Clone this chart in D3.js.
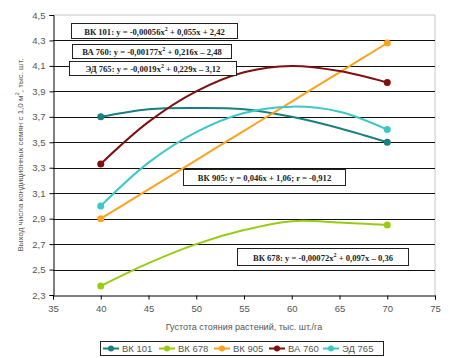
<!DOCTYPE html>
<html><head><meta charset="utf-8">
<script src="https://cdn.jsdelivr.net/npm/d3@7"></script>
<style>body{margin:0;background:#fff}svg{display:block}</style>
</head><body>
<svg id="c" width="452" height="358"></svg>
<script>
const xValues = [40, 45, 50, 55, 60, 65, 70];
const seriesNames = ["ВК 101", "ВК 678", "ВК 905", "ВА 760", "ЭД 765"];
const bk101 = [3.70, 3.76, 3.77, 3.76, 3.70, 3.61, 3.50];
const bk678 = [2.37, 2.55, 2.70, 2.81, 2.88, 2.87, 2.85];
const bk905 = [2.90, 3.13, 3.36, 3.59, 3.82, 4.05, 4.28];
const ba760 = [3.33, 3.66, 3.90, 4.05, 4.10, 4.06, 3.97];
const ed765 = [3.00, 3.34, 3.58, 3.73, 3.78, 3.74, 3.60];
const colors = ["#1a7f80", "#99cc11", "#fba31c", "#7f1010", "#3cc8c8"];
const yTicks = [2.3, 2.5, 2.7, 2.9, 3.1, 3.3, 3.5, 3.7, 3.9, 4.1, 4.3, 4.5];
const xTicks = [35, 40, 45, 50, 55, 60, 65, 70, 75];
const annotations = [
  {name: "ВК 101", eq: ": у = -0,00056х", sup: "2", rest: " + 0,055х + 2,42"},
  {name: "ВА 760", eq: ": у = -0,00177х", sup: "2", rest: " + 0,216х – 2,48"},
  {name: "ЭД 765", eq: ": у = -0,0019х", sup: "2", rest: " + 0,229х – 3,12"},
  {name: "ВК 905", eq: ": у = 0,046х + 1,06; r = -0,912", sup: "", rest: ""},
  {name: "ВК 678", eq: ": у = -0,00072х", sup: "2", rest: " + 0,097х – 0,36"}
];
const annPos = [[71, 23, 166, 15], [72, 44, 159, 14], [69, 61, 167, 14], [183, 169, 162, 16], [237, 248, 171, 17]];

const series = [bk101, bk678, bk905, ba760, ed765];
const svg = d3.select("#c");
const x = d3.scaleLinear().domain([35, 75]).range([53, 435]);
const y = d3.scaleLinear().domain([2.3, 4.5]).range([295, 15]);

svg.append("line").attr("x1", 53).attr("x2", 435).attr("y1", y(4.5)).attr("y2", y(4.5)).attr("stroke", "#c8c8c8");
svg.append("line").attr("x1", 435).attr("x2", 435).attr("y1", y(4.5)).attr("y2", y(2.3)).attr("stroke", "#c8c8c8");

svg.append("g").selectAll("line").data(yTicks.filter(t => t > 2.3 && t < 4.5)).join("line")
  .attr("x1", 53).attr("x2", 435).attr("y1", d => Math.round(y(d)) + 0.5).attr("y2", d => Math.round(y(d)) + 0.5)
  .attr("stroke", "#111").attr("stroke-width", 1.2);

const fmt = d => d3.format(".1f")(d).replace(".", ",");
const yAxis = svg.append("g").attr("transform", "translate(53.5,0)")
  .call(d3.axisLeft(y).tickValues(yTicks).tickFormat(fmt).tickSize(4).tickPadding(4));
const xAxis = svg.append("g").attr("transform", `translate(0,${Math.round(y(2.3)) + 0.5})`)
  .call(d3.axisBottom(x).tickValues(xTicks).tickFormat(d3.format("d")).tickSize(4).tickPadding(6));
[yAxis, xAxis].forEach(a => {
  a.select(".domain").attr("stroke", "#000");
  a.selectAll(".tick line").attr("stroke", "#000");
  a.selectAll("text").attr("font-family", "Liberation Sans, Arial, sans-serif").attr("font-size", 9.5).attr("fill", "#555");
});

const line = d3.line().x((d, i) => x(xValues[i])).y(d => y(d)).curve(d3.curveCatmullRom.alpha(0.5));
series.forEach((s, k) => {
  svg.append("path").attr("d", line(s)).attr("fill", "none").attr("stroke", colors[k]).attr("stroke-width", 2);
  [0, s.length - 1].forEach(i => {
    svg.append("circle").attr("cx", x(xValues[i])).attr("cy", y(s[i])).attr("r", 3.5).attr("fill", colors[k]);
  });
});

annotations.forEach((a, i) => {
  const [bx, by, bw, bh] = annPos[i];
  const g = svg.append("g");
  g.append("rect").attr("x", bx + 0.5).attr("y", by + 0.5).attr("width", bw).attr("height", bh)
    .attr("fill", "#fff").attr("stroke", "#222").attr("stroke-width", 1);
  const t = g.append("text").attr("x", bx + bw / 2 + 0.5).attr("y", by + bh / 2 + 4)
    .attr("text-anchor", "middle").attr("font-family", "Liberation Serif, Times New Roman, serif")
    .attr("font-size", 8.6).attr("font-weight", "bold").attr("fill", "#222");
  t.append("tspan").text(a.name);
  t.append("tspan").text(a.eq);
  if (a.sup) {
    t.append("tspan").attr("font-size", 6).attr("dy", -4).text(a.sup);
    t.append("tspan").attr("dy", 4).text(a.rest);
  }
});

svg.append("text").attr("x", 244).attr("y", 330).attr("text-anchor", "middle")
  .attr("font-family", "Liberation Sans, Arial, sans-serif").attr("font-size", 9).attr("fill", "#555")
  .text("Густота стояния растений, тыс. шт./га");
const yt = svg.append("text").attr("transform", "translate(23,155) rotate(-90)").attr("text-anchor", "middle")
  .attr("font-family", "Liberation Sans, Arial, sans-serif").attr("font-size", 8).attr("fill", "#555");
yt.append("tspan").text("Выход числа кондиционных семян с 1,0 м");
yt.append("tspan").attr("font-size", 6).attr("dy", -4).text("2");
yt.append("tspan").attr("dy", 4).text(", тыс. шт.");

const lg = svg.append("g");
lg.append("rect").attr("x", 100.5).attr("y", 341.5).attr("width", 283).attr("height", 14).attr("fill", "#fff").attr("stroke", "#222");
const legX = [103, 159, 214, 269, 323];
seriesNames.forEach((n, k) => {
  const lx = legX[k];
  lg.append("line").attr("x1", lx).attr("x2", lx + 16).attr("y1", 348.5).attr("y2", 348.5).attr("stroke", colors[k]).attr("stroke-width", 2);
  lg.append("circle").attr("cx", lx + 8).attr("cy", 348.5).attr("r", 3).attr("fill", colors[k]);
  lg.append("text").attr("x", lx + 19).attr("y", 352).attr("font-family", "Liberation Sans, Arial, sans-serif")
    .attr("font-size", 9.5).attr("fill", "#555").text(n);
});
</script>
</body></html>
